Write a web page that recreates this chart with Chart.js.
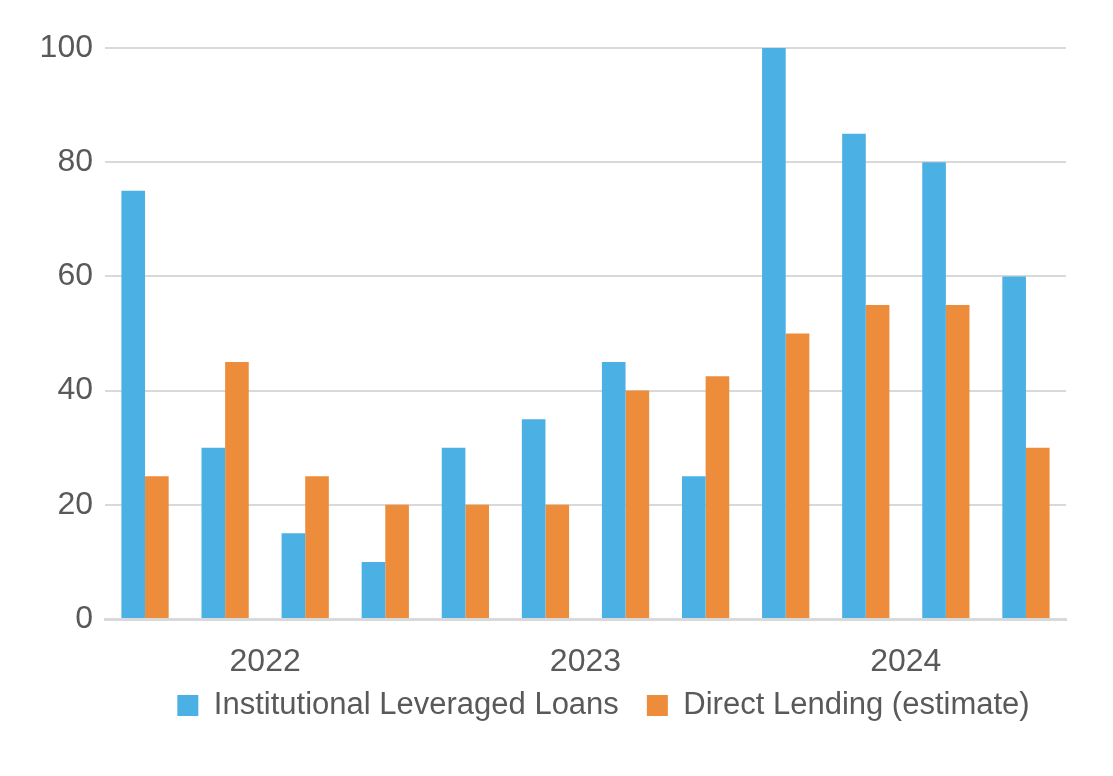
<!DOCTYPE html>
<html>
<head>
<meta charset="utf-8">
<script src="https://cdn.jsdelivr.net/npm/chart.js@4"></script>
<style>
  html, body { margin: 0; padding: 0; background: #fff; }
  #wrap { width: 1113px; height: 776px; }
</style>
</head>
<body>
<div id="wrap"><canvas id="myChart" width="1113" height="776"></canvas></div>
<script>
// quarters, grouped by year on the axis
let quarters = ['Q1 2022','Q2 2022','Q3 2022','Q4 2022',
                'Q1 2023','Q2 2023','Q3 2023','Q4 2023',
                'Q1 2024','Q2 2024','Q3 2024','Q4 2024'];
let yearLabels = ['2022', '2023', '2024'];
let leveragedLoans = [75, 30, 15, 10, 30, 35, 45, 25, 100, 85, 80, 60];
let directLending  = [25, 45, 25, 20, 20, 20, 40, 42.5, 50, 55, 55, 30];
let yTicks = [0, 20, 40, 60, 80, 100];

let textColor = '#595959';
let fontFam = '"Liberation Sans", Arial, sans-serif';

// nudge the legend right and up, like the original layout
const legendShift = {
    id: 'legendShift',
    afterLayout(chart) {
        let lg = chart.legend;
        lg.left += 18;
        lg.right += 18;
        lg.top -= 19;
        lg.bottom -= 19;
    }
};

let data = {
    labels: quarters,
    datasets: [{
        label: 'Institutional Leveraged Loans',
        backgroundColor: '#4BB0E3',
        data: leveragedLoans,
    }, {
        label: 'Direct Lending (estimate)',
        backgroundColor: '#ED8D3B',
        data: directLending,
    }]
};

let config = {
    type: 'bar',
    data: data,
    plugins: [legendShift],
    options: {
        responsive: false,
        animation: false,
        layout: { padding: { left: 0, right: 47, top: 48, bottom: 26 } },
        datasets: { bar: { categoryPercentage: 0.59, barPercentage: 1 } },
        plugins: {
            tooltip: { enabled: false },
            legend: {
                position: 'bottom',
                fullSize: false,
                labels: {
                    color: textColor,
                    font: { family: fontFam, size: 31 },
                    boxWidth: 21,
                    boxHeight: 21,
                    padding: 28
                }
            }
        },
        scales: {
            x: {
                grid: { display: false, drawTicks: false },
                border: { display: true, color: '#D9D9D9', width: 3 },
                ticks: {
                    color: textColor,
                    font: { family: fontFam, size: 32 },
                    autoSkip: false,
                    maxRotation: 0,
                    padding: 24,
                    labelOffset: 40,
                    // one year label per group of four quarters
                    callback: function (val, i) {
                        return (i % 4 == 1) ? yearLabels[(i - 1) / 4] : '';
                    }
                },
                afterFit: function (scale) { scale.height = 62; }
            },
            y: {
                min: 0,
                max: 100,
                grid: { color: '#D9D9D9', lineWidth: 2, drawTicks: false },
                border: { display: false },
                ticks: {
                    color: textColor,
                    font: { family: fontFam, size: 32 },
                    padding: 12
                },
                afterBuildTicks: function (scale) {
                    scale.ticks = yTicks.map(v => ({ value: v }));
                },
                afterFit: function (scale) { scale.width = 105; }
            }
        }
    }
};

let myChart = new Chart(document.getElementById('myChart'), config);
</script>
</body>
</html>
